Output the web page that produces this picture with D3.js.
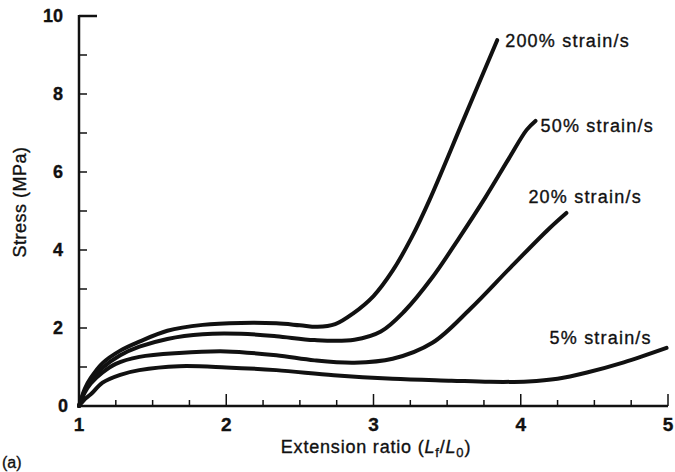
<!DOCTYPE html>
<html>
  <head>
    <meta charset="utf-8">
    <title>Stress vs extension ratio</title>
    <script src="https://d3js.org/d3.v7.min.js"></script>
    <style>
      body { margin: 0; background: #fff; font-family: "Liberation Sans", Arial, sans-serif; }
      svg text { fill: #111; stroke: #111; stroke-width: 0.35; }
    </style>
  </head>
  <body>
    <svg></svg>
    <script>
      // Curves: extension ratio (x) vs stress in MPa (y)
      var seriesLabels = ["200% strain/s", "50% strain/s", "20% strain/s", "5% strain/s"];

      var x200 = [1, 1.04, 1.08, 1.16, 1.28, 1.41, 1.6, 1.84, 2.1, 2.34, 2.5, 2.62, 2.74, 2.86, 3.0, 3.13, 3.26, 3.38, 3.61, 3.84];
      var y200 = [0, 0.45, 0.72, 1.1, 1.42, 1.65, 1.93, 2.08, 2.13, 2.12, 2.07, 2.03, 2.1, 2.37, 2.82, 3.47, 4.33, 5.28, 7.33, 9.38];

      var x50 = [1, 1.04, 1.08, 1.16, 1.28, 1.41, 1.6, 1.84, 2.1, 2.34, 2.6, 2.87, 3.05, 3.21, 3.4, 3.58, 3.76, 3.92, 4.04, 4.1];
      var y50 = [0, 0.4, 0.65, 0.98, 1.3, 1.52, 1.72, 1.84, 1.85, 1.79, 1.69, 1.70, 1.91, 2.43, 3.3, 4.3, 5.35, 6.35, 7.08, 7.31];

      var x20 = [1, 1.04, 1.08, 1.16, 1.25, 1.41, 1.68, 2.0, 2.34, 2.6, 2.87, 3.13, 3.4, 3.66, 3.93, 4.19, 4.31];
      var y20 = [0, 0.35, 0.58, 0.86, 1.08, 1.26, 1.36, 1.40, 1.30, 1.17, 1.11, 1.21, 1.62, 2.5, 3.55, 4.54, 4.95];

      var x5 = [1, 1.04, 1.08, 1.16, 1.28, 1.41, 1.68, 2.0, 2.34, 2.73, 3.13, 3.53, 3.79, 4.05, 4.25, 4.45, 4.7, 4.99];
      var y5 = [0, 0.18, 0.3, 0.6, 0.8, 0.92, 1.02, 0.99, 0.92, 0.79, 0.70, 0.65, 0.62, 0.63, 0.7, 0.86, 1.12, 1.49];

      var yTickLabels = [0, 2, 4, 6, 8, 10];
      var xTickLabels = [1, 2, 3, 4, 5];

      var series = [[x200, y200], [x50, y50], [x20, y20], [x5, y5]].map(function(s, i) {
        return { name: seriesLabels[i], pts: s[0].map(function(x, j) { return [x, s[1][j]]; }) };
      });

      // label offset from each curve end, in pixels
      var labelOffset = [[8, 7], [5, 11], [-38, -10], [-117, -4]];

      var svg = d3.select("svg")
        .attr("width", 675)
        .attr("height", 472);

      var x = d3.scaleLinear().domain([1, 5]).range([79, 668]);
      var y = d3.scaleLinear().domain([0, 10]).range([406, 16]);

      // y axis: ticks every 1 MPa pointing inward
      svg.append("line")
        .attr("x1", x(1)).attr("x2", x(1))
        .attr("y1", y(10) - 1).attr("y2", y(0))
        .attr("stroke", "#111").attr("stroke-width", 2.5);

      svg.selectAll(".ytick")
        .data(d3.range(1, 11))
        .enter().append("line")
          .attr("x1", x(1))
          .attr("x2", function(d) { return x(1) + (d === 10 ? 18 : 8); })
          .attr("y1", function(d) { return y(d); })
          .attr("y2", function(d) { return y(d); })
          .attr("stroke", "#111")
          .attr("stroke-width", function(d) { return d === 10 ? 2.5 : 1.5; });

      svg.selectAll(".ylab")
        .data(yTickLabels)
        .enter().append("text")
          .attr("x", function(d) { return d === 0 ? 68 : 63; })
          .attr("y", function(d) { return y(d) + 6; })
          .attr("text-anchor", "end")
          .attr("font-size", 18)
          .attr("font-weight", "bold")
          .text(function(d) { return d; });

      // x axis: minor ticks every 0.25, pointing up
      svg.append("line")
        .attr("x1", x(1)).attr("x2", x(5))
        .attr("y1", y(0)).attr("y2", y(0))
        .attr("stroke", "#111").attr("stroke-width", 2.5);

      svg.selectAll(".xtick")
        .data(d3.range(1.25, 5.01, 0.25))
        .enter().append("line")
          .attr("x1", function(d) { return x(d); })
          .attr("x2", function(d) { return x(d); })
          .attr("y1", y(0))
          .attr("y2", function(d) { return y(0) - (Math.abs(d - Math.round(d)) < 0.01 ? 12 : 6); })
          .attr("stroke", "#111")
          .attr("stroke-width", 1.5);

      svg.selectAll(".xlab")
        .data(xTickLabels)
        .enter().append("text")
          .attr("x", function(d) { return x(d); })
          .attr("y", 431)
          .attr("text-anchor", "middle")
          .attr("font-size", 19)
          .attr("font-weight", "bold")
          .text(function(d) { return d; });

      // axis titles
      var xt = svg.append("text")
        .attr("x", 376).attr("y", 453)
        .attr("text-anchor", "middle")
        .attr("font-size", 18)
        .attr("letter-spacing", 0.8);
      xt.append("tspan").text("Extension ratio (");
      xt.append("tspan").attr("font-style", "italic").text("L");
      xt.append("tspan").attr("font-size", 13).attr("dy", 4).text("f");
      xt.append("tspan").attr("dy", -4).text("/");
      xt.append("tspan").attr("font-style", "italic").text("L");
      xt.append("tspan").attr("font-size", 13).attr("dy", 4).text("0");
      xt.append("tspan").attr("dy", -4).text(")");

      svg.append("text")
        .attr("transform", "translate(26,202) rotate(-90)")
        .attr("text-anchor", "middle")
        .attr("font-size", 18)
        .attr("letter-spacing", 0.5)
        .text("Stress (MPa)");

      svg.append("text")
        .attr("x", 2).attr("y", 468)
        .attr("font-size", 16)
        .text("(a)");

      // curves
      var line = d3.line()
        .x(function(d) { return x(d[0]); })
        .y(function(d) { return y(d[1]); })
        .curve(d3.curveCatmullRom.alpha(0.5));

      svg.selectAll(".curve")
        .data(series)
        .enter().append("path")
          .attr("d", function(d) { return line(d.pts); })
          .attr("fill", "none")
          .attr("stroke", "#111")
          .attr("stroke-width", 4)
          .attr("stroke-linecap", "round");

      svg.selectAll(".slab")
        .data(series)
        .enter().append("text")
          .attr("x", function(d, i) { return x(d.pts[d.pts.length - 1][0]) + labelOffset[i][0]; })
          .attr("y", function(d, i) { return y(d.pts[d.pts.length - 1][1]) + labelOffset[i][1]; })
          .attr("font-size", 18)
          .attr("letter-spacing", 1.2)
          .text(function(d) { return d.name; });
    </script>
  </body>
</html>
